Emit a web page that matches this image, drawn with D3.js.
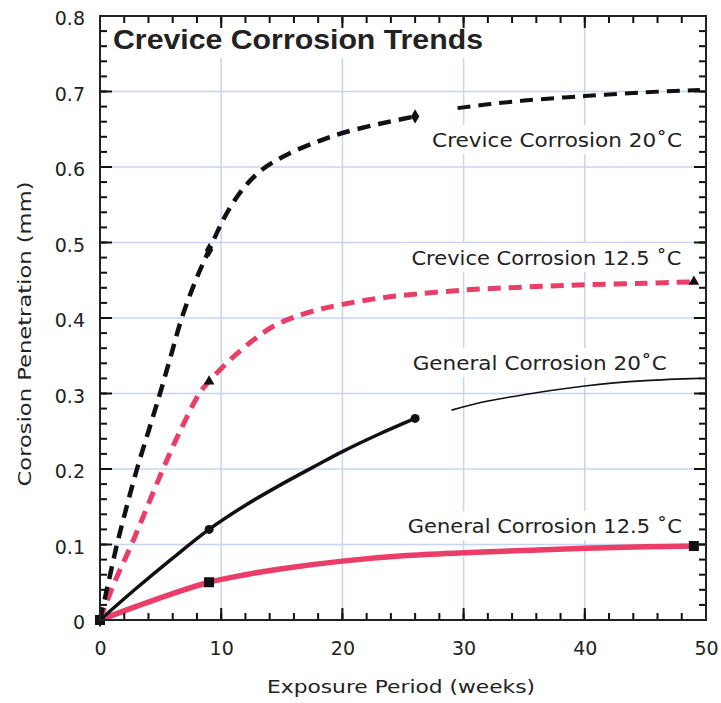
<!DOCTYPE html>
<html>
<head>
<meta charset="utf-8">
<title>Crevice Corrosion Trends</title>
<script src="https://d3js.org/d3.v7.min.js"></script>
<style>
  body { margin: 0; background: #fff; }
  text { font-family: "DejaVu Sans", "Liberation Sans", Arial, sans-serif; fill: #222; }
</style>
</head>
<body>
<div id="chart"></div>
<script>
// values: [weeks, mm]
const crevice20 = [[0,0],[0.7,0.05],[1.4,0.1],[2.2,0.15],[3.05,0.2],[4,0.25],[4.95,0.3],[5.85,0.35],[6.75,0.4],[7.9,0.45],[9,0.49],[10.5,0.54],[12,0.575],[13.5,0.598],[15.5,0.617],[18,0.634],[20,0.645],[23,0.657],[26,0.667]];
const crevice20Tail = [[29.5,0.678],[32,0.683],[35,0.688],[40,0.694],[45,0.699],[49.5,0.702]];
const crevice125 = [[0,0],[1.2,0.05],[2.6,0.1],[3.9,0.15],[5.2,0.2],[6.6,0.25],[8.2,0.3],[9,0.316],[10.7,0.344],[12.5,0.369],[14.3,0.389],[16,0.401],[18,0.411],[20,0.418],[22.5,0.425],[25,0.43],[30,0.437],[35,0.441],[40,0.444],[45,0.446],[49,0.448]];
const general20 = [[0,0],[3,0.042],[6,0.082],[9,0.12],[12,0.152],[15,0.18],[18,0.206],[20,0.223],[23,0.246],[26,0.267]];
const general20Tail = [[29,0.278],[32,0.29],[36,0.301],[40,0.31],[45,0.317],[49.5,0.32]];
const general125 = [[0,0],[3,0.018],[6,0.035],[9,0.05],[12,0.06],[15,0.068],[20,0.078],[25,0.085],[30,0.089],[35,0.092],[40,0.095],[45,0.097],[49,0.098]];

// marker points
const creviceMarks20 = [[0,0],[9,0.49],[26,0.667]];
const creviceMarks125 = [[0,0],[9,0.316],[49,0.448]];
const generalMarks20 = [[0,0],[9,0.12],[26,0.267]];
const generalMarks125 = [[0,0],[9,0.05],[49,0.098]];

const xMajor = [0,10,20,30,40,50];
const yMajor = [0,0.1,0.2,0.3,0.4,0.5,0.6,0.7,0.8];
const yTickLabels = ["0","0.1","0.2","0.3","0.4","0.5","0.6","0.7","0.8"];
const xMinor = d3.range(0, 51, 2);
const yMinor = d3.range(0, 0.801, 0.02);

const title = "Crevice Corrosion Trends";
const xTitle = "Exposure Period (weeks)";
const yTitle = "Corosion Penetration (mm)";
const seriesLabels = ["Crevice Corrosion 20\u02DAC", "Crevice Corrosion 12.5 \u02DAC", "General Corrosion 20\u02DAC", "General Corrosion 12.5 \u02DAC"];

const W = 721, H = 703;
const margin = {top: 16, right: 15, bottom: 83, left: 100};
const width = W - margin.left - margin.right;
const height = H - margin.top - margin.bottom;

const svg = d3.select("#chart").append("svg")
    .attr("width", W).attr("height", H);
const g = svg.append("g")
    .attr("transform", "translate(" + margin.left + "," + margin.top + ")");

const x = d3.scaleLinear().domain([0, 50]).range([0, width]);
const y = d3.scaleLinear().domain([0, 0.8]).range([height, 0]);

const pink = "#ea3d68";

// grid
g.append("g").selectAll("line").data(xMajor.slice(1, -1)).enter().append("line")
    .attr("x1", d => x(d)).attr("x2", d => x(d))
    .attr("y1", 10).attr("y2", height - 6)
    .attr("stroke", "#c7d4f7").attr("stroke-width", 1.5);
g.append("g").selectAll("line").data(yMajor.slice(1, -1)).enter().append("line")
    .attr("y1", d => y(d)).attr("y2", d => y(d))
    .attr("x1", 12).attr("x2", width - 12)
    .attr("stroke", "#c7d4f7").attr("stroke-width", 1.5);

// white boxes behind title and labels
g.append("rect").attr("x", 2).attr("y", 2).attr("width", 392).attr("height", 40).attr("fill", "#fff");
const labelPos = [[27.4, 0.6265, 250], [25.7, 0.470, 270], [25.8, 0.331, 254], [25.4, 0.115, 274]];
labelPos.forEach(p => {
  g.append("rect")
    .attr("x", x(p[0]) - 8).attr("y", y(p[1]) - 22)
    .attr("width", p[2] + 16).attr("height", 29)
    .attr("fill", "#fff");
});

const line = d3.line().x(d => x(d[0])).y(d => y(d[1])).curve(d3.curveCatmullRom.alpha(0.5));

function curve(data, color, w, dash) {
  g.append("path").datum(data)
    .attr("d", line)
    .attr("fill", "none")
    .attr("stroke", color)
    .attr("stroke-width", w)
    .attr("stroke-dasharray", dash || null);
}

curve(general125, pink, 5.5);
curve(general20, "#111", 3.5);
curve(general20Tail, "#111", 1.6);
curve(crevice125, pink, 5, "13,8");
curve(crevice20, "#111", 4.5, "13,8");
curve(crevice20Tail, "#111", 4, "13,8");

// markers
g.append("g").selectAll("path").data(creviceMarks20).enter().append("path")
    .attr("d", d3.symbol(d3.symbolDiamond, 60))
    .attr("transform", d => "translate(" + x(d[0]) + "," + y(d[1]) + ")")
    .attr("fill", "#111");
g.append("g").selectAll("path").data(creviceMarks125).enter().append("path")
    .attr("d", d3.symbol(d3.symbolTriangle, 50))
    .attr("transform", d => "translate(" + x(d[0]) + "," + y(d[1]) + ")")
    .attr("fill", "#111");
g.append("g").selectAll("circle").data(generalMarks20).enter().append("circle")
    .attr("cx", d => x(d[0])).attr("cy", d => y(d[1])).attr("r", 4.5)
    .attr("fill", "#111");
g.append("g").selectAll("rect").data(generalMarks125).enter().append("rect")
    .attr("x", d => x(d[0]) - 5).attr("y", d => y(d[1]) - 5)
    .attr("width", 10).attr("height", 10)
    .attr("fill", "#111");

// series labels
seriesLabels.forEach((t, i) => {
  const p = labelPos[i];
  g.append("text")
    .attr("x", x(p[0])).attr("y", y(p[1]))
    .attr("font-size", 19)
    .attr("textLength", p[2]).attr("lengthAdjust", "spacingAndGlyphs")
    .text(t);
});

// title
g.append("text")
    .attr("x", 13).attr("y", 33)
    .attr("font-weight", "bold").attr("font-size", 28)
    .attr("textLength", 370).attr("lengthAdjust", "spacingAndGlyphs")
    .style("font-family", "'Liberation Sans', Arial, sans-serif")
    .text(title);

// tick labels through d3 axes
function noLines(sel) {
  sel.select(".domain").remove();
  sel.selectAll(".tick line").remove();
  sel.selectAll("text").attr("font-size", 19).attr("fill", "#222")
    .style("font-family", "'DejaVu Sans', sans-serif");
}
g.append("g").attr("transform", "translate(0," + height + ")")
    .call(d3.axisBottom(x).tickValues(xMajor).tickSize(0).tickPadding(22).tickFormat(d3.format("d")))
    .call(noLines);
g.append("g")
    .call(d3.axisLeft(y).tickValues(yMajor).tickSize(0).tickPadding(15).tickFormat((d, i) => yTickLabels[i]))
    .call(noLines)
    .selectAll("text").attr("dy", "0.45em");

// inward tick marks on all four sides, as rects so they stay crisp
const tickG = g.append("g").attr("fill", "#111");
function xTicks(vals, len) {
  tickG.selectAll(null).data(vals).enter().append("rect")
    .attr("x", d => x(d) - 1).attr("y", height - len).attr("width", 2).attr("height", len);
  tickG.selectAll(null).data(vals).enter().append("rect")
    .attr("x", d => x(d) - 1).attr("y", 0).attr("width", 2).attr("height", len);
}
function yTicks(vals, len) {
  tickG.selectAll(null).data(vals).enter().append("rect")
    .attr("y", d => y(d) - 1).attr("x", 0).attr("height", 2).attr("width", len);
  tickG.selectAll(null).data(vals).enter().append("rect")
    .attr("y", d => y(d) - 1).attr("x", width - len).attr("height", 2).attr("width", len);
}
xTicks(xMinor, 7);
xTicks(xMajor, 12);
yTicks(yMinor, 7);
yTicks(yMajor, 12);

// frame
g.append("rect").attr("width", width).attr("height", height)
    .attr("fill", "none").attr("stroke", "#222").attr("stroke-width", 2);

// axis titles
svg.append("text")
    .attr("x", 401).attr("y", 693)
    .attr("text-anchor", "middle").attr("font-size", 18)
    .attr("textLength", 268).attr("lengthAdjust", "spacingAndGlyphs")
    .text(xTitle);
svg.append("text")
    .attr("transform", "translate(31,334) rotate(-90)")
    .attr("text-anchor", "middle").attr("font-size", 18)
    .attr("textLength", 305).attr("lengthAdjust", "spacingAndGlyphs")
    .text(yTitle);
</script>
</body>
</html>
